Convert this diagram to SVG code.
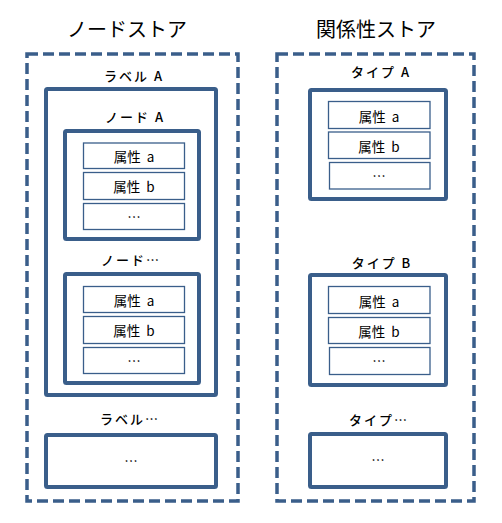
<svg xmlns="http://www.w3.org/2000/svg" width="502" height="523" viewBox="0 0 502 523">
<style>
.store{fill:none;stroke:#3A5E8A;stroke-width:3.5;stroke-dasharray:11 5}
.frame{fill:#fff;stroke:#3A5E8A;stroke-width:4}
.attr{fill:#fff;stroke:#3A5E8A;stroke-width:1.3}
text{font-family:"Noto Sans CJK JP","DejaVu Sans",sans-serif;fill:#000;text-anchor:middle;dominant-baseline:central}
.title{font-size:20px}
.lbl{font-size:13px;letter-spacing:2px;font-weight:500}
.at{font-size:13.5px;word-spacing:3px}
</style>
<rect width="502" height="523" fill="#fff"/>
<g id="nodestore">
<text class="title" x="127" y="28">ノードストア</text>
<rect class="store" x="27" y="54" width="211" height="447"/>
</g>
<g id="relstore">
<text class="title" x="376" y="28">関係性ストア</text>
<rect class="store" x="277" y="54" width="197" height="447"/>
</g>
<g id="labelA">
<text class="lbl" x="134" y="75">ラベル A</text>
<rect class="frame" x="46" y="89" width="170" height="306" rx="1.5"/>
</g>
<g id="nodeA">
<text class="lbl" x="135" y="116">ノード A</text>
<rect class="frame" x="65" y="131" width="134" height="108" rx="1.5"/>
<rect class="attr" x="83.5" y="143" width="101" height="25.5"/>
<text class="at" x="134" y="156">属性 a</text>
<rect class="attr" x="83.5" y="172.5" width="101" height="27"/>
<text class="at" x="134" y="186">属性 b</text>
<rect class="attr" x="83.5" y="203.5" width="101" height="26"/>
<text class="at" x="134" y="216">…</text>
</g>
<g id="nodeEtc">
<text class="lbl" x="131" y="259">ノード…</text>
<rect class="frame" x="65" y="274" width="134" height="109" rx="1.5"/>
<rect class="attr" x="83.5" y="286.5" width="101" height="26"/>
<text class="at" x="134" y="300">属性 a</text>
<rect class="attr" x="83.5" y="316.5" width="101" height="27"/>
<text class="at" x="134" y="330">属性 b</text>
<rect class="attr" x="83.5" y="347.5" width="101" height="26"/>
<text class="at" x="134" y="360">…</text>
</g>
<g id="labelEtc">
<text class="lbl" x="130" y="418">ラベル…</text>
<rect class="frame" x="46" y="435" width="170" height="52" rx="1.5"/>
<text class="at" x="131" y="460">…</text>
</g>
<g id="typeA">
<text class="lbl" x="381" y="71">タイプ A</text>
<rect class="frame" x="310" y="90" width="136" height="109" rx="1.5"/>
<rect class="attr" x="328.5" y="101.5" width="101.5" height="27"/>
<text class="at" x="379" y="116">属性 a</text>
<rect class="attr" x="328.5" y="132" width="101.5" height="26.5"/>
<text class="at" x="379" y="146">属性 b</text>
<rect class="attr" x="329.5" y="162.5" width="100.5" height="26.5"/>
<text class="at" x="379" y="175">…</text>
</g>
<g id="typeB">
<text class="lbl" x="382" y="262">タイプ B</text>
<rect class="frame" x="310" y="275" width="136" height="110" rx="1.5"/>
<rect class="attr" x="328.5" y="286.5" width="101.5" height="27"/>
<text class="at" x="379" y="301">属性 a</text>
<rect class="attr" x="328.5" y="317.5" width="101.5" height="26"/>
<text class="at" x="379" y="331">属性 b</text>
<rect class="attr" x="329.5" y="347.5" width="100.5" height="27"/>
<text class="at" x="379" y="360">…</text>
</g>
<g id="typeEtc">
<text class="lbl" x="379" y="419">タイプ…</text>
<rect class="frame" x="310" y="434" width="136" height="53" rx="1.5"/>
<text class="at" x="378" y="459">…</text>
</g>
<g id="connectors"></g>
</svg>
